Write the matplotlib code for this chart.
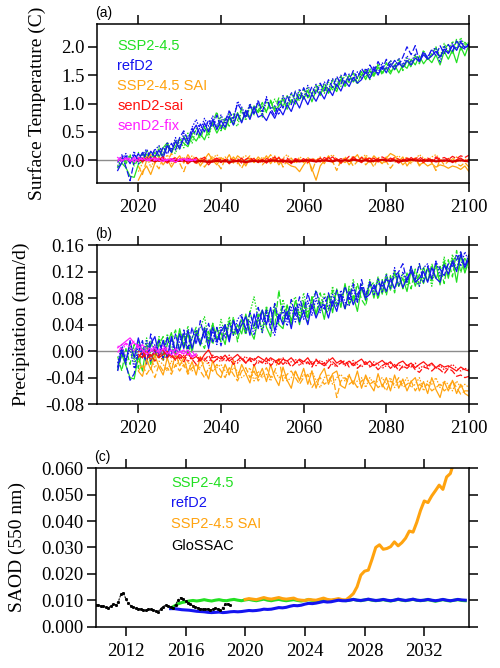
import matplotlib
matplotlib.use("Agg")
import matplotlib.pyplot as plt
import numpy as np

# ---- years ----
yrs = np.arange(2015, 2101)
sai_yrs = np.arange(2020, 2101)
fix_yrs = np.arange(2015, 2035)

# ---- (a) surface temperature anomaly (C) ----
ssp_t1 = [-0.13, -0.05, -0.13, -0.28, -0.30, -0.07, -0.01, 0.11, 0.03, 0.14,
          0.05, 0.22, 0.31, 0.15, 0.25, 0.38, 0.30, 0.24, 0.43, 0.34,
          0.47, 0.36, 0.55, 0.64, 0.48, 0.62, 0.54, 0.74, 0.64, 0.84,
          0.68, 0.87, 0.76, 0.96, 0.84, 0.96, 0.86, 1.04, 0.86, 0.96,
          1.08, 0.90, 1.07, 0.99, 1.16, 1.08, 1.23, 1.03, 1.24, 1.16,
          1.29, 1.18, 1.30, 1.21, 1.43, 1.32, 1.50, 1.38, 1.46, 1.56,
          1.42, 1.58, 1.48, 1.64, 1.54, 1.62, 1.52, 1.68, 1.54, 1.68,
          1.62, 1.78, 1.68, 1.84, 1.70, 1.80, 1.72, 1.86, 1.68, 1.92,
          1.78, 1.94, 1.72, 2.00, 1.84, 2.04]
ssp_t2 = [-0.02, 0.04, -0.06, 0.08, -0.10, 0.02, 0.12, -0.02, 0.15, 0.04,
          0.20, 0.06, 0.26, 0.12, 0.34, 0.20, 0.42, 0.30, 0.46, 0.52,
          0.38, 0.58, 0.46, 0.66, 0.86, 0.52, 0.74, 0.60, 0.82, 0.70,
          0.92, 0.74, 0.98, 0.80, 0.88, 1.02, 0.84, 1.06, 0.90, 1.10,
          0.94, 1.14, 1.00, 1.20, 1.04, 1.26, 1.10, 1.18, 1.32, 1.14,
          1.36, 1.20, 1.42, 1.26, 1.48, 1.30, 1.40, 1.54, 1.36, 1.50,
          1.60, 1.42, 1.56, 1.68, 1.50, 1.72, 1.56, 1.66, 1.78, 1.58,
          1.76, 1.64, 1.84, 1.70, 1.92, 1.76, 1.88, 1.98, 1.80, 1.96,
          2.04, 1.86, 2.14, 1.94, 2.08, 2.00]
ssp_t3 = [-0.10, 0.06, -0.02, 0.10, -0.08, 0.14, 0.00, 0.18, 0.06, -0.04,
          0.24, 0.08, 0.30, 0.16, 0.12, 0.36, 0.22, 0.48, 0.30, 0.56,
          0.46, 0.62, 0.40, 0.70, 0.58, 0.76, 0.56, 0.82, 0.66, 0.60,
          0.88, 0.70, 0.96, 0.82, 1.00, 0.76, 1.04, 0.90, 1.08, 0.94,
          1.12, 0.96, 1.18, 1.04, 1.22, 1.08, 1.28, 1.12, 1.24, 1.34,
          1.18, 1.38, 1.24, 1.44, 1.30, 1.52, 1.36, 1.46, 1.34, 1.56,
          1.46, 1.62, 1.50, 1.70, 1.54, 1.64, 1.76, 1.58, 1.74, 1.62,
          1.80, 1.66, 1.86, 1.72, 1.94, 1.78, 1.84, 2.00, 1.82, 2.06,
          1.90, 2.10, 1.96, 2.16, 2.02, 2.08]
ref_t1 = [-0.18, -0.04, 0.08, -0.06, 0.10, 0.00, 0.14, 0.02, 0.16, 0.06,
          0.18, 0.04, 0.26, 0.14, 0.34, 0.20, 0.40, 0.28, 0.50, 0.62,
          0.44, 0.66, 0.50, 0.72, 0.54, 0.70, 0.58, 0.78, 0.62, 0.82,
          0.66, 0.88, 0.72, 0.94, 0.76, 0.80, 0.70, 0.86, 0.74, 0.92,
          0.80, 0.98, 0.86, 1.06, 0.92, 1.12, 0.98, 1.16, 1.04, 1.20,
          1.08, 1.26, 1.14, 1.34, 1.22, 1.40, 1.30, 1.46, 1.36, 1.42,
          1.56, 1.44, 1.62, 1.50, 1.66, 1.54, 1.70, 1.60, 1.72, 1.64,
          1.76, 1.68, 1.80, 1.74, 1.86, 1.78, 1.84, 1.92, 1.82, 1.96,
          1.88, 2.02, 1.94, 2.08, 1.98, 2.02]
ref_t2 = [-0.04, 0.10, -0.12, -0.36, -0.02, 0.12, -0.02, 0.16, 0.04, 0.20,
          0.08, 0.24, 0.10, 0.30, 0.18, 0.40, 0.52, 0.36, 0.56, 0.44,
          0.64, 0.50, 0.72, 0.58, 0.80, 0.56, 0.70, 0.86, 0.74, 1.00,
          0.88, 0.74, 0.96, 0.82, 1.04, 0.86, 1.08, 0.92, 0.78, 1.04,
          0.92, 1.14, 0.98, 1.22, 1.06, 1.28, 1.12, 1.30, 1.16, 1.36,
          1.22, 1.42, 1.28, 1.48, 1.34, 1.54, 1.40, 1.58, 1.44, 1.62,
          1.50, 1.68, 1.56, 1.74, 1.60, 1.78, 1.64, 1.76, 1.68, 1.82,
          2.00, 1.86, 2.02, 1.74, 1.92, 1.80, 1.96, 1.84, 2.02, 1.88,
          2.04, 1.92, 2.10, 2.00, 1.96, 2.06]
ref_t3 = [-0.12, 0.02, 0.12, -0.04, 0.16, -0.06, 0.10, 0.20, 0.04, 0.18,
          0.26, 0.10, 0.32, 0.18, 0.40, 0.24, 0.48, 0.34, 0.58, 0.72,
          0.52, 0.74, 0.60, 0.78, 0.58, 0.80, 0.64, 0.88, 0.70, 1.04,
          0.94, 0.78, 1.00, 0.84, 1.06, 0.82, 1.12, 0.90, 0.96, 0.80,
          1.14, 0.98, 1.20, 1.04, 1.26, 1.10, 1.32, 1.16, 1.34, 1.20,
          1.38, 1.24, 1.44, 1.30, 1.50, 1.36, 1.52, 1.40, 1.56, 1.44,
          1.62, 1.50, 1.66, 1.54, 1.72, 1.60, 1.76, 1.64, 1.80, 1.68,
          1.84, 1.72, 1.88, 1.76, 1.90, 1.82, 1.94, 1.98, 1.72, 2.02,
          1.88, 2.06, 1.94, 2.12, 1.98, 2.06]
sai_t1 = [-0.35, -0.20, -0.10, -0.25, -0.05, 0.05, -0.08, 0.02, -0.12, 0.00,
          0.08, -0.05, 0.10, -0.02, 0.05, -0.10, 0.02, 0.12, 0.00, -0.08,
          0.05, -0.02, 0.10, -0.05, 0.08, 0.02, -0.10, 0.04, -0.04, 0.06,
          -0.02, 0.08, -0.06, 0.04, -0.08, 0.02, -0.05, -0.10, -0.12, -0.20,
          -0.08, 0.02, -0.15, -0.35, -0.10, 0.00, 0.06, -0.04, 0.02, -0.06,
          0.04, -0.08, 0.02, 0.10, -0.04, 0.06, -0.02, 0.08, 0.00, -0.06,
          0.04, 0.12, 0.08, -0.02, 0.06, -0.10, 0.00, 0.04, -0.08, -0.04,
          -0.10, -0.06, -0.12, -0.08, -0.10, -0.14, -0.10, -0.12, -0.16, -0.10,
          -0.20]
sai_t2 = [-0.10, -0.25, 0.00, 0.10, -0.05, -0.15, 0.05, -0.02, 0.12, 0.02,
          -0.05, -0.20, 0.00, 0.04, -0.08, 0.06, -0.12, -0.02, 0.08, -0.04,
          -0.15, 0.02, -0.06, 0.06, -0.02, -0.14, 0.00, 0.08, -0.04, 0.02,
          -0.08, 0.00, 0.10, -0.04, 0.06, -0.12, 0.00, 0.04, -0.06, 0.02,
          -0.04, 0.06, -0.20, 0.00, 0.04, -0.06, 0.08, -0.02, -0.18, 0.00,
          -0.04, 0.02, -0.10, -0.02, 0.06, -0.08, 0.00, -0.12, 0.04, -0.06,
          -0.02, -0.14, -0.04, 0.02, -0.08, 0.00, -0.06, 0.04, -0.10, -0.02,
          0.04, -0.04, -0.18, 0.02, -0.08, -0.02, 0.04, -0.06, -0.10, -0.04,
          -0.12]
sai_t3 = [-0.20, -0.05, 0.08, -0.12, 0.00, 0.06, -0.04, 0.10, -0.06, 0.04,
          0.00, 0.06, -0.06, 0.08, 0.02, -0.04, 0.06, -0.02, 0.04, 0.10,
          0.00, 0.06, -0.04, 0.02, -0.06, 0.04, 0.08, -0.02, 0.04, -0.04,
          0.06, -0.02, 0.02, 0.08, -0.04, 0.04, 0.10, 0.00, -0.04, 0.06,
          0.02, -0.06, 0.04, 0.00, 0.06, -0.02, 0.04, 0.10, 0.02, -0.04,
          0.06, 0.00, 0.08, -0.02, 0.04, 0.10, 0.02, -0.04, 0.06, 0.00,
          0.06, -0.02, 0.04, 0.08, 0.00, 0.06, -0.04, 0.02, 0.10, 0.04,
          0.00, 0.06, 0.10, 0.02, -0.02, 0.04, 0.00, 0.06, -0.02, 0.02,
          0.00]
sen_t1 = [0.00, 0.02, 0.01, 0.00, -0.01, 0.00, 0.01, -0.01, 0.00, -0.01,
          -0.01, 0.00, -0.02, -0.01, -0.02, -0.01, -0.02, -0.03, -0.02, -0.01,
          -0.02, -0.01, -0.03, -0.02, -0.01, -0.02, -0.03, -0.02, -0.01, -0.02,
          -0.01, -0.02, -0.01, 0.00, -0.02, -0.01, -0.02, -0.03, -0.01, -0.02,
          -0.01, 0.00, -0.01, -0.02, -0.01, 0.00, -0.01, -0.02, 0.00, -0.01,
          0.00, -0.01, 0.01, 0.00, -0.01, 0.00, -0.02, -0.01, 0.00, 0.01,
          0.00, -0.01, 0.00, -0.02, -0.01, 0.00, 0.01, 0.00, -0.01, 0.00,
          -0.01, 0.00, -0.02, -0.01, 0.00, -0.01, -0.02, -0.01, 0.00, -0.01,
          -0.02]
sen_t2 = [0.05, -0.03, 0.04, 0.00, 0.06, -0.02, 0.03, -0.05, 0.02, 0.04,
          -0.02, 0.03, -0.06, 0.00, 0.05, -0.03, 0.02, -0.08, 0.00, 0.04,
          -0.04, 0.02, -0.06, 0.01, -0.03, 0.04, -0.05, 0.00, 0.03, -0.04,
          0.02, -0.05, 0.03, -0.02, 0.05, -0.04, 0.01, -0.06, 0.02, -0.02,
          0.03, -0.04, 0.02, -0.03, 0.04, -0.02, 0.05, -0.01, 0.03, -0.05,
          0.02, -0.02, 0.06, 0.00, -0.04, 0.03, -0.01, 0.04, -0.03, 0.02,
          -0.02, 0.04, 0.00, -0.05, 0.02, -0.02, 0.05, -0.01, 0.03, -0.04,
          0.02, -0.03, 0.04, 0.00, -0.02, 0.03, -0.04, 0.01, 0.04, -0.02,
          0.02]
sen_t3 = [-0.02, 0.04, 0.00, 0.05, -0.03, 0.02, 0.06, -0.01, 0.03, -0.04,
          0.03, -0.02, 0.04, 0.00, -0.05, 0.02, 0.05, 0.00, -0.03, 0.03,
          0.01, -0.03, 0.04, -0.01, 0.03, -0.05, 0.02, 0.05, -0.02, 0.01,
          -0.03, 0.03, 0.00, 0.06, -0.02, 0.02, 0.04, -0.02, 0.03, 0.00,
          -0.02, 0.04, 0.00, 0.03, -0.03, 0.05, 0.01, 0.06, -0.01, 0.03,
          0.00, 0.07, 0.02, -0.02, 0.05, 0.01, 0.04, -0.01, 0.03, 0.06,
          0.02, 0.00, 0.05, 0.02, -0.02, 0.04, 0.00, 0.03, 0.06, 0.01,
          0.04, 0.00, 0.06, 0.02, 0.05, 0.01, 0.07, 0.03, 0.08, 0.05,
          0.09]
fix_t1 = [0.05, 0.00, 0.04, -0.02, 0.03, 0.00, 0.05, -0.01, 0.02, 0.04,
          0.00, -0.02, 0.02, 0.00, -0.03, 0.01, 0.03, -0.01, 0.00, 0.02]
fix_t2 = [-0.02, 0.06, 0.02, 0.04, -0.03, 0.05, 0.01, 0.03, -0.02, 0.00,
          0.04, 0.01, -0.01, 0.03, 0.00, 0.02, -0.02, 0.01, 0.03, 0.00]
fix_t3 = [0.02, -0.03, 0.05, 0.01, 0.06, -0.02, 0.03, 0.00, 0.05, -0.01,
          0.02, 0.04, 0.00, -0.02, 0.03, 0.00, 0.02, 0.04, -0.01, 0.01]

# ---- (b) precipitation anomaly (mm/d) ----
ssp_p1 = [-0.028, -0.005, -0.022, -0.040, -0.042, -0.008, -0.030, 0.010, -0.020, 0.004,
          0.018, -0.014, 0.010, 0.028, -0.004, 0.034, 0.006, 0.026, -0.002, 0.030,
          0.008, 0.036, 0.012, 0.042, 0.018, 0.028, 0.010, 0.046, 0.024, 0.040,
          0.026, 0.056, 0.032, 0.018, 0.050, 0.062, 0.036, 0.022, 0.064, 0.040,
          0.034, 0.070, 0.046, 0.066, 0.040, 0.076, 0.050, 0.082, 0.056, 0.074,
          0.048, 0.086, 0.058, 0.094, 0.066, 0.102, 0.070, 0.084, 0.060, 0.096,
          0.076, 0.104, 0.080, 0.110, 0.086, 0.112, 0.092, 0.118, 0.098, 0.110,
          0.090, 0.122, 0.098, 0.116, 0.102, 0.126, 0.106, 0.132, 0.100, 0.136,
          0.110, 0.140, 0.104, 0.146, 0.118, 0.138]
ssp_p2 = [-0.008, -0.030, 0.004, -0.020, 0.010, -0.026, 0.006, -0.016, 0.016, -0.010,
          0.010, 0.022, -0.010, 0.016, 0.032, 0.000, 0.026, -0.006, 0.020, 0.036,
          0.016, 0.004, 0.030, 0.010, 0.036, 0.014, 0.040, 0.020, 0.052, 0.014,
          0.046, 0.024, 0.060, 0.034, 0.056, 0.028, 0.066, 0.044, 0.038, 0.092,
          0.044, 0.068, 0.038, 0.078, 0.048, 0.072, 0.042, 0.082, 0.054, 0.088,
          0.064, 0.058, 0.092, 0.068, 0.088, 0.062, 0.098, 0.072, 0.102, 0.078,
          0.068, 0.098, 0.104, 0.078, 0.108, 0.084, 0.114, 0.088, 0.118, 0.094,
          0.118, 0.094, 0.124, 0.098, 0.128, 0.104, 0.132, 0.108, 0.128, 0.102,
          0.138, 0.112, 0.152, 0.118, 0.142, 0.124]
ssp_p3 = [-0.024, 0.006, -0.020, 0.010, -0.016, 0.016, -0.010, 0.020, -0.004, -0.016,
          0.022, -0.006, 0.026, 0.004, 0.000, 0.032, 0.010, 0.038, 0.004, 0.026,
          0.036, 0.052, 0.018, 0.042, 0.014, 0.048, 0.024, 0.052, 0.028, 0.024,
          0.052, 0.028, 0.058, 0.082, 0.048, 0.034, 0.068, 0.044, 0.072, 0.048,
          0.078, 0.052, 0.072, 0.082, 0.054, 0.088, 0.058, 0.076, 0.092, 0.068,
          0.088, 0.062, 0.098, 0.072, 0.068, 0.098, 0.078, 0.108, 0.078, 0.102,
          0.084, 0.108, 0.088, 0.112, 0.090, 0.118, 0.094, 0.122, 0.098, 0.116,
          0.100, 0.128, 0.104, 0.132, 0.108, 0.126, 0.098, 0.132, 0.108, 0.142,
          0.114, 0.146, 0.124, 0.150, 0.118, 0.146]
ref_p1 = [-0.024, 0.004, -0.016, 0.016, -0.010, 0.020, -0.004, -0.016, 0.010, 0.022,
          -0.006, 0.016, -0.012, 0.022, 0.000, 0.026, 0.004, 0.032, 0.004, 0.026,
          0.010, 0.032, 0.004, 0.036, 0.014, 0.030, 0.040, 0.014, 0.046, 0.026,
          0.040, 0.052, 0.024, 0.056, 0.034, 0.062, 0.040, 0.066, 0.030, 0.056,
          0.040, 0.060, 0.034, 0.066, 0.044, 0.060, 0.040, 0.070, 0.050, 0.066,
          0.070, 0.050, 0.076, 0.060, 0.086, 0.064, 0.090, 0.070, 0.086, 0.096,
          0.080, 0.086, 0.100, 0.084, 0.106, 0.090, 0.110, 0.094, 0.116, 0.096,
          0.110, 0.120, 0.104, 0.110, 0.120, 0.104, 0.126, 0.110, 0.104, 0.130,
          0.116, 0.136, 0.120, 0.146, 0.126, 0.140]
ref_p2 = [-0.030, -0.002, -0.020, -0.044, -0.034, -0.002, 0.016, -0.020, 0.026, -0.004,
          0.016, -0.010, 0.022, -0.006, 0.026, 0.000, 0.032, 0.004, 0.036, 0.010,
          0.046, 0.020, 0.042, 0.014, 0.036, 0.008, 0.036, 0.018, 0.046, 0.030,
          0.052, 0.034, 0.058, 0.038, 0.066, 0.044, 0.062, 0.034, 0.072, 0.044,
          0.068, 0.048, 0.078, 0.054, 0.082, 0.058, 0.088, 0.064, 0.092, 0.068,
          0.064, 0.088, 0.068, 0.092, 0.074, 0.098, 0.078, 0.102, 0.074, 0.108,
          0.084, 0.102, 0.094, 0.102, 0.098, 0.108, 0.104, 0.112, 0.120, 0.132,
          0.104, 0.128, 0.108, 0.132, 0.104, 0.128, 0.110, 0.134, 0.124, 0.114,
          0.132, 0.128, 0.138, 0.150, 0.128, 0.146]
ref_p3 = [-0.018, 0.010, -0.014, 0.004, -0.026, 0.010, -0.010, 0.016, -0.016, 0.010,
          -0.010, 0.016, -0.004, 0.020, -0.010, 0.016, 0.026, 0.000, 0.020, 0.032,
          0.010, 0.036, 0.014, 0.030, 0.010, 0.036, 0.020, 0.042, 0.024, 0.048,
          0.056, 0.028, 0.046, 0.024, 0.052, 0.028, 0.058, 0.034, 0.024, 0.052,
          0.060, 0.038, 0.066, 0.044, 0.072, 0.048, 0.076, 0.054, 0.080, 0.058,
          0.082, 0.064, 0.086, 0.068, 0.092, 0.074, 0.068, 0.096, 0.074, 0.100,
          0.078, 0.106, 0.084, 0.110, 0.088, 0.116, 0.094, 0.126, 0.098, 0.120,
          0.104, 0.126, 0.108, 0.098, 0.126, 0.132, 0.108, 0.136, 0.114, 0.130,
          0.124, 0.132, 0.146, 0.128, 0.150, 0.134]
sai_p1 = [-0.030, -0.038, -0.012, -0.028, -0.006, -0.024, -0.036, -0.010, -0.030, -0.004,
          -0.022, -0.010, -0.032, -0.016, -0.036, -0.008, -0.028, -0.042, -0.014, -0.034,
          -0.040, -0.020, -0.036, -0.014, -0.040, -0.020, -0.034, -0.048, -0.020, -0.040,
          -0.026, -0.046, -0.020, -0.040, -0.052, -0.024, -0.044, -0.056, -0.030, -0.044,
          -0.026, -0.050, -0.030, -0.056, -0.036, -0.026, -0.050, -0.034, -0.030, -0.052,
          -0.056, -0.036, -0.050, -0.030, -0.056, -0.036, -0.050, -0.060, -0.034, -0.054,
          -0.040, -0.060, -0.036, -0.056, -0.042, -0.060, -0.046, -0.040, -0.060, -0.046,
          -0.064, -0.040, -0.058, -0.070, -0.046, -0.060, -0.044, -0.064, -0.050, -0.064,
          -0.068]
sai_p2 = [-0.030, -0.020, -0.035, -0.025, -0.040, -0.020, -0.030, -0.025, -0.035, -0.020,
          -0.030, -0.020, -0.035, -0.025, -0.020, -0.030, -0.040, -0.025, -0.030, -0.020,
          -0.030, -0.040, -0.025, -0.035, -0.045, -0.030, -0.025, -0.040, -0.030, -0.045,
          -0.035, -0.025, -0.040, -0.030, -0.010, -0.045, -0.035, -0.030, -0.040, -0.050,
          -0.040, -0.035, -0.055, -0.045, -0.040, -0.050, -0.045, -0.035, -0.070, -0.045,
          -0.040, -0.050, -0.045, -0.055, -0.045, -0.040, -0.050, -0.045, -0.055, -0.050,
          -0.060, -0.045, -0.050, -0.040, -0.055, -0.050, -0.045, -0.060, -0.050, -0.055,
          -0.050, -0.060, -0.055, -0.050, -0.060, -0.055, -0.045, -0.055, -0.065, -0.060,
          -0.060]
sai_p3 = [-0.015, -0.025, -0.020, -0.010, -0.025, -0.015, -0.020, -0.030, -0.015, -0.025,
          -0.010, -0.025, -0.015, -0.030, -0.020, -0.025, -0.015, -0.020, -0.030, -0.025,
          -0.020, -0.030, -0.035, -0.025, -0.030, -0.040, -0.035, -0.025, -0.045, -0.030,
          -0.040, -0.035, -0.045, -0.030, -0.040, -0.035, -0.045, -0.040, -0.030, -0.045,
          -0.035, -0.040, -0.030, -0.045, -0.055, -0.040, -0.035, -0.050, -0.040, -0.035,
          -0.045, -0.035, -0.050, -0.045, -0.040, -0.055, -0.040, -0.050, -0.045, -0.040,
          -0.050, -0.040, -0.055, -0.045, -0.050, -0.040, -0.055, -0.050, -0.040, -0.060,
          -0.045, -0.050, -0.040, -0.055, -0.045, -0.050, -0.060, -0.045, -0.055, -0.050,
          -0.055]
sen_p1 = [-0.005, -0.010, 0.000, -0.008, -0.003, -0.010, -0.005, 0.000, -0.008, -0.012,
          -0.005, -0.010, -0.003, -0.012, -0.008, -0.015, -0.005, 0.002, -0.010, -0.008,
          -0.012, -0.006, -0.015, -0.010, -0.005, -0.012, -0.018, -0.010, -0.014, -0.008,
          -0.012, -0.016, -0.010, -0.014, -0.020, -0.012, -0.015, -0.010, -0.018, -0.012,
          -0.016, -0.010, -0.020, -0.014, -0.018, -0.022, -0.015, -0.010, -0.018, -0.014,
          -0.020, -0.015, -0.022, -0.016, -0.012, -0.020, -0.015, -0.022, -0.018, -0.014,
          -0.020, -0.016, -0.024, -0.018, -0.015, -0.022, -0.018, -0.025, -0.020, -0.016,
          -0.022, -0.018, -0.025, -0.020, -0.024, -0.022, -0.026, -0.030, -0.024, -0.028,
          -0.030]
sen_p2 = [-0.010, 0.000, -0.012, -0.005, -0.015, -0.008, 0.002, -0.010, -0.004, -0.014,
          -0.008, -0.016, -0.004, -0.012, -0.020, -0.010, -0.014, -0.006, -0.018, -0.012,
          -0.008, -0.016, -0.010, -0.020, -0.014, -0.008, -0.018, -0.012, -0.022, -0.014,
          -0.018, -0.010, -0.022, -0.016, -0.012, -0.020, -0.014, -0.024, -0.018, -0.014,
          -0.020, -0.016, -0.024, -0.012, -0.020, -0.018, -0.026, -0.016, -0.022, -0.018,
          -0.014, -0.024, -0.018, -0.026, -0.020, -0.016, -0.024, -0.020, -0.028, -0.022,
          -0.018, -0.026, -0.020, -0.030, -0.022, -0.026, -0.020, -0.028, -0.032, -0.024,
          -0.026, -0.030, -0.024, -0.028, -0.034, -0.026, -0.030, -0.038, -0.036, -0.040,
          -0.038]
sen_p3 = [0.000, -0.008, -0.004, -0.012, 0.002, -0.006, -0.014, -0.004, -0.010, -0.002,
          -0.012, -0.006, -0.016, -0.008, -0.004, -0.014, -0.010, -0.018, -0.006, -0.012,
          -0.016, -0.010, -0.006, -0.014, -0.018, -0.012, -0.008, -0.016, -0.010, -0.018,
          -0.014, -0.020, -0.012, -0.018, -0.014, -0.010, -0.020, -0.016, -0.012, -0.022,
          -0.014, -0.020, -0.016, -0.022, -0.014, -0.018, -0.012, -0.020, -0.024, -0.016,
          -0.022, -0.018, -0.014, -0.020, -0.024, -0.018, -0.022, -0.016, -0.020, -0.026,
          -0.022, -0.018, -0.024, -0.020, -0.026, -0.020, -0.024, -0.018, -0.026, -0.022,
          -0.024, -0.020, -0.026, -0.022, -0.028, -0.024, -0.020, -0.026, -0.030, -0.026,
          -0.028]
fix_p1 = [0.005, 0.010, 0.015, 0.020, 0.012, 0.008, 0.002, -0.005, 0.000, 0.005,
          -0.002, 0.004, -0.004, 0.002, -0.006, 0.000, -0.004, 0.002, -0.008, -0.004]
fix_p2 = [-0.002, 0.006, 0.012, 0.008, 0.015, 0.004, 0.010, 0.000, 0.006, -0.004,
          0.002, 0.008, 0.000, -0.006, 0.004, -0.002, 0.002, -0.006, 0.000, -0.010]
fix_p3 = [0.008, 0.002, 0.010, 0.005, 0.000, 0.010, -0.002, 0.006, 0.002, 0.008,
          -0.004, 0.000, 0.006, -0.002, 0.002, -0.008, 0.000, -0.004, -0.010, -0.006]

# ---- (c) SAOD (550 nm), quarterly model output, bimonthly GloSSAC ----
saod_yrs = np.arange(2015, 2035, 0.25)
saod_ssp = [0.0070, 0.0078, 0.0086, 0.0091, 0.0094, 0.0097, 0.0099, 0.0097,
            0.0099, 0.0102, 0.0099, 0.0097, 0.0100, 0.0102, 0.0099, 0.0098,
            0.0101, 0.0103, 0.0100, 0.0098, 0.0101, 0.0103, 0.0100, 0.0098,
            0.0101, 0.0104, 0.0100, 0.0098, 0.0101, 0.0103, 0.0100, 0.0098,
            0.0100, 0.0102, 0.0099, 0.0097, 0.0099, 0.0102, 0.0099, 0.0098,
            0.0100, 0.0102, 0.0099, 0.0098, 0.0100, 0.0102, 0.0099, 0.0098,
            0.0100, 0.0103, 0.0100, 0.0098, 0.0101, 0.0103, 0.0100, 0.0098,
            0.0100, 0.0102, 0.0099, 0.0097, 0.0100, 0.0103, 0.0100, 0.0098,
            0.0101, 0.0103, 0.0100, 0.0098, 0.0100, 0.0102, 0.0099, 0.0096,
            0.0099, 0.0102, 0.0099, 0.0097, 0.0100, 0.0102, 0.0099, 0.0098]
saod_ref = [0.0068, 0.0068, 0.0066, 0.0064, 0.0063, 0.0062, 0.0060, 0.0058,
            0.0057, 0.0056, 0.0054, 0.0053, 0.0054, 0.0055, 0.0053, 0.0054,
            0.0056, 0.0057, 0.0056, 0.0057, 0.0059, 0.0061, 0.0060, 0.0061,
            0.0063, 0.0066, 0.0065, 0.0066, 0.0069, 0.0072, 0.0071, 0.0073,
            0.0077, 0.0080, 0.0079, 0.0081, 0.0085, 0.0088, 0.0087, 0.0089,
            0.0092, 0.0095, 0.0093, 0.0094, 0.0097, 0.0100, 0.0098, 0.0098,
            0.0100, 0.0103, 0.0100, 0.0099, 0.0101, 0.0104, 0.0101, 0.0099,
            0.0100, 0.0103, 0.0100, 0.0098, 0.0100, 0.0104, 0.0101, 0.0099,
            0.0101, 0.0104, 0.0100, 0.0099, 0.0100, 0.0103, 0.0100, 0.0098,
            0.0100, 0.0103, 0.0100, 0.0098, 0.0100, 0.0103, 0.0101, 0.0100]
saod_sai_yrs = np.arange(2020, 2034.01, 0.25)
saod_sai = [0.0103, 0.0106, 0.0104, 0.0102, 0.0106, 0.0110, 0.0106, 0.0104,
            0.0107, 0.0110, 0.0106, 0.0104, 0.0106, 0.0108, 0.0102, 0.0100,
            0.0099, 0.0103, 0.0101, 0.0100, 0.0104, 0.0108, 0.0103, 0.0101,
            0.0103, 0.0106, 0.0102, 0.0101, 0.0112, 0.0125, 0.0151, 0.0195,
            0.0210, 0.0214, 0.0255, 0.0300, 0.0310, 0.0293, 0.0296, 0.0303,
            0.0321, 0.0306, 0.0318, 0.0335, 0.0362, 0.0358, 0.0395, 0.0440,
            0.0476, 0.0470, 0.0495, 0.0515, 0.0536, 0.0520, 0.0567, 0.0580,
            0.0625]
glossac_yrs = np.arange(2010, 2019.01, 1 / 6)
glossac = [0.0083, 0.0080, 0.0078, 0.0077, 0.0074, 0.0071, 0.0078, 0.0085,
           0.0083, 0.0095, 0.0122, 0.0128, 0.0105, 0.0088, 0.0079, 0.0074,
           0.0071, 0.0068, 0.0066, 0.0064, 0.0063, 0.0066, 0.0065, 0.0062,
           0.0060, 0.0057, 0.0068, 0.0076, 0.0081, 0.0079, 0.0074, 0.0070,
           0.0083, 0.0100, 0.0110, 0.0104, 0.0096, 0.0090, 0.0084, 0.0079,
           0.0075, 0.0071, 0.0068, 0.0066, 0.0065, 0.0067, 0.0063, 0.0066,
           0.0070, 0.0066, 0.0063, 0.0072, 0.0084, 0.0086, 0.0081]

GREEN = '#22e022'
BLUE = '#1414f0'
ORANGE = '#ffa30f'
RED = '#ff1010'
MAGENTA = '#ff20ff'
SERIF = 'Liberation Serif'
SANS = 'Liberation Sans'
styles = ['-', (0, (5, 2)), (0, (1.2, 1.2))]

fig = plt.figure(figsize=(5, 6.68), dpi=100)
ax_a = fig.add_axes([0.194, 0.726, 0.744, 0.238])
ax_b = fig.add_axes([0.194, 0.395, 0.744, 0.238])
ax_c = fig.add_axes([0.192, 0.062, 0.746, 0.237])


def style_axis(ax, label, ylabel):
    for s in ax.spines.values():
        s.set_linewidth(1.1)
    ax.tick_params(which='major', direction='out', length=6.5, width=1.1,
                   top=True, right=True, bottom=True, left=True,
                   labeltop=False, labelright=False,
                   labelsize=13.5, pad=2.5)
    ax.tick_params(axis='x', pad=5)
    for t in ax.get_xticklabels() + ax.get_yticklabels():
        t.set_fontfamily(SERIF)
    ax.set_ylabel(ylabel, fontsize=14, fontfamily=SERIF, labelpad=11)
    ax.text(-0.005, 1.025, label, transform=ax.transAxes, ha='left', va='bottom',
            fontsize=10, fontfamily=SANS)


def draw_members(ax, x, members, color, lw=0.9):
    for vals, ls in zip(members, styles):
        ax.plot(x, vals, color=color, linestyle=ls, linewidth=lw)


# (a)
ax_a.axhline(0, color='#8c8c8c', linewidth=1.0)
draw_members(ax_a, yrs, [ssp_t1, ssp_t2, ssp_t3], GREEN)
draw_members(ax_a, yrs, [ref_t1, ref_t2, ref_t3], BLUE)
draw_members(ax_a, sai_yrs, [sai_t1, sai_t2, sai_t3], ORANGE)
draw_members(ax_a, sai_yrs, [sen_t2, sen_t3], RED)
ax_a.plot(sai_yrs, sen_t1, color='#d40000', linewidth=1.5)
draw_members(ax_a, fix_yrs, [fix_t1, fix_t2, fix_t3], MAGENTA)
ax_a.set_xlim(2010, 2100)
ax_a.set_ylim(-0.4, 2.4)
ax_a.set_xticks([2020, 2040, 2060, 2080, 2100])
ax_a.set_yticks([0.0, 0.5, 1.0, 1.5, 2.0])
ax_a.set_yticklabels(['0.0', '0.5', '1.0', '1.5', '2.0'])
style_axis(ax_a, '(a)', 'Surface Temperature (C)')
names_a = ['SSP2-4.5', 'refD2', 'SSP2-4.5 SAI', 'senD2-sai', 'senD2-fix']
cols_a = [GREEN, BLUE, ORANGE, RED, MAGENTA]
for i, (n, c) in enumerate(zip(names_a, cols_a)):
    ax_a.text(0.054, 0.862 - i * 0.126, n, color=c, transform=ax_a.transAxes,
              fontsize=10.5, fontfamily=SANS, va='center', ha='left')

# (b)
ax_b.axhline(0, color='#8c8c8c', linewidth=1.0)
draw_members(ax_b, yrs, [ssp_p1, ssp_p2, ssp_p3], GREEN)
draw_members(ax_b, yrs, [ref_p1, ref_p2, ref_p3], BLUE)
draw_members(ax_b, sai_yrs, [sai_p1, sai_p2, sai_p3], ORANGE)
draw_members(ax_b, sai_yrs, [sen_p1, sen_p2, sen_p3], RED)
draw_members(ax_b, fix_yrs, [fix_p1, fix_p2, fix_p3], MAGENTA)
ax_b.set_xlim(2010, 2100)
ax_b.set_ylim(-0.08, 0.16)
ax_b.set_xticks([2020, 2040, 2060, 2080, 2100])
ax_b.set_yticks([-0.08, -0.04, 0.0, 0.04, 0.08, 0.12, 0.16])
ax_b.set_yticklabels(['-0.08', '-0.04', '0.00', '0.04', '0.08', '0.12', '0.16'])
style_axis(ax_b, '(b)', 'Precipitation (mm/d)')

# (c)
ax_c.plot(saod_yrs, saod_ssp, color=GREEN, linewidth=2.2)
ax_c.plot(saod_sai_yrs, saod_sai, color=ORANGE, linewidth=2.2)
ax_c.plot(saod_yrs, saod_ref, color=BLUE, linewidth=2.2)
ax_c.plot(glossac_yrs, glossac, color='black', linewidth=0.8, linestyle=(0, (2, 1)),
          marker='s', markersize=1.1)
ax_c.set_xlim(2010, 2035)
ax_c.set_ylim(0, 0.06)
ax_c.set_xticks([2012, 2016, 2020, 2024, 2028, 2032])
ax_c.set_yticks([0, 0.01, 0.02, 0.03, 0.04, 0.05, 0.06])
ax_c.set_yticklabels(['0.000', '0.010', '0.020', '0.030', '0.040', '0.050', '0.060'])
style_axis(ax_c, '(c)', 'SAOD (550 nm)')
names_c = ['SSP2-4.5', 'refD2', 'SSP2-4.5 SAI', 'GloSSAC']
cols_c = [GREEN, BLUE, ORANGE, 'black']
ypos_c = [0.91, 0.78, 0.65, 0.51]
for n, c, y in zip(names_c, cols_c, ypos_c):
    ax_c.text(0.201, y, n, color=c, transform=ax_c.transAxes,
              fontsize=10.5, fontfamily=SANS, va='center', ha='left')

fig.savefig('out.png', dpi=100)
